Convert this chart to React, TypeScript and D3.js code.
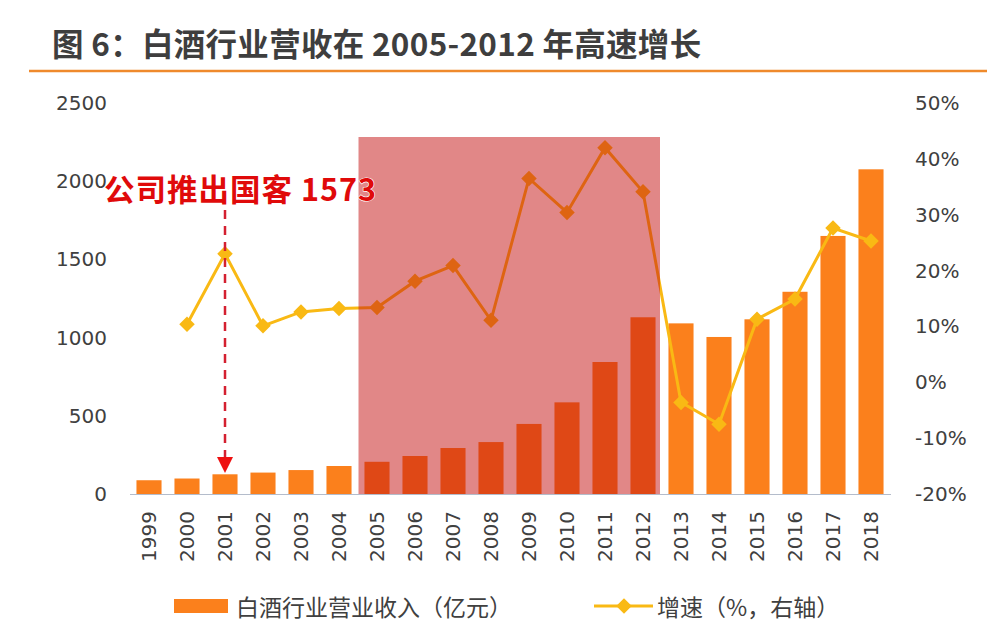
import React from 'react';
import * as d3 from 'd3';

const years = ['1999','2000','2001','2002','2003','2004','2005','2006','2007','2008','2009','2010','2011','2012','2013','2014','2015','2016','2017','2018'];
const revenue = [88, 99, 126, 137, 153, 179, 206, 243, 294, 332, 448, 586, 844, 1130, 1091, 1004, 1117, 1293, 1650, 2076];
const growth: (number | null)[] = [null, 10.4, 23.0, 10.1, 12.6, 13.2, 13.4, 18.1, 20.9, 11.1, 36.5, 30.4, 42.0, 34.1, -3.6, -7.5, 11.3, 14.9, 27.6, 25.3];
const leftTicks = [0, 500, 1000, 1500, 2000, 2500];
const rightTicks = [-20, -10, 0, 10, 20, 30, 40, 50];
const shadeFrom = '2005';
const shadeTo = '2012';
const annotYear = '2001';

const title = '图 6：白酒行业营收在 2005-2012 年高速增长';
const annotText = '公司推出国客 1573';
const legendBar = '白酒行业营业收入（亿元）';
const legendLine = '增速（%，右轴）';

const W = 998, H = 640;
const BAR = '#fb801c';
const GOLD = '#f9b914';
const CJK = '"Noto Sans CJK SC", "Noto Sans", sans-serif';
const NUM = '"DejaVu Sans", sans-serif';

export default function App() {
  const x = d3.scaleBand<string>().domain(years).range([130, 890]).paddingInner(0.34).paddingOuter(0.17);
  const yL = d3.scaleLinear().domain([0, 2500]).range([494, 103]);
  const yR = d3.scaleLinear().domain([-20, 50]).range([494, 103]);
  const cx = (y: string) => (x(y) as number) + x.bandwidth() / 2;

  const pts = years.map((y, i) => ({ y, v: growth[i] }));
  const line = d3.line<{ y: string; v: number | null }>()
    .defined(d => d.v != null)
    .x(d => cx(d.y))
    .y(d => yR(d.v as number));
  const diamond = d3.symbol().type(d3.symbolSquare).size(120)() as string;

  const step = x.step();
  const shadeX0 = (x(shadeFrom) as number) - step * 0.17 + 0.5;
  const shadeX1 = (x(shadeTo) as number) + x.bandwidth() + step * 0.17 - 2;
  const ax = cx(annotYear);

  return (
    <svg width={W} height={H} style={{ position: 'absolute', left: 0, top: 0, background: '#fff' }}>
      <text x={52} y={42} dominantBaseline="central" fontFamily={CJK} fontWeight={700} fontSize={31.5} letterSpacing={0.3} fill="#3e3e3e">{title}</text>
      <line x1={29} x2={987} y1={71} y2={71} stroke="#ef8a2c" strokeWidth={2.5} />

      {leftTicks.map(t => (
        <text key={'l' + t} x={107} y={yL(t)} textAnchor="end" dominantBaseline="central" fontFamily={NUM} fontSize={20} fill="#404040">{t}</text>
      ))}
      {rightTicks.map(t => (
        <text key={'r' + t} x={915} y={yR(t)} textAnchor="start" dominantBaseline="central" fontFamily={NUM} fontSize={20} fill="#404040">{t + '%'}</text>
      ))}

      {years.map((y, i) => (
        <rect key={'b' + y} x={x(y)} y={yL(revenue[i])} width={x.bandwidth()} height={yL(0) - yL(revenue[i])} fill={BAR} />
      ))}
      <line x1={130} x2={891} y1={494.5} y2={494.5} stroke="#b4bccb" strokeWidth={1.2} />

      <path d={line(pts) as string} fill="none" stroke={GOLD} strokeWidth={3} />
      {pts.filter(p => p.v != null).map(p => (
        <path key={'d' + p.y} d={diamond} transform={`translate(${cx(p.y)},${yR(p.v as number)}) rotate(45)`} fill={GOLD} />
      ))}

      <rect x={shadeX0} y={137} width={shadeX1 - shadeX0} height={494 - 137} fill="rgb(195,15,15)" fillOpacity={0.5} />

      {years.map(y => (
        <text key={'x' + y} transform={`translate(${cx(y)},${511}) rotate(-90)`} textAnchor="end" dominantBaseline="central" fontFamily={NUM} fontSize={20} fill="#404040">{y}</text>
      ))}

      <line x1={ax} x2={ax} y1={210} y2={458} stroke="#d42030" strokeWidth={2.5} strokeDasharray="9,7" />
      <path d={`M${ax - 8},457 L${ax + 8},457 L${ax},473 Z`} fill="#ee1111" />
      <text x={104} y={188} dominantBaseline="central" fontFamily={CJK} fontWeight={700} fontSize={30.5} letterSpacing={1} fill="#e00a0a" stroke="#fff" strokeWidth={1.2} paintOrder="stroke">{annotText}</text>

      <rect x={174} y={599} width={54} height={14} fill={BAR} />
      <text x={236} y={606} dominantBaseline="central" fontFamily={CJK} fontSize={23} fill="#404040">{legendBar}</text>
      <line x1={594} x2={653} y1={606} y2={606} stroke={GOLD} strokeWidth={3} />
      <path d={diamond} transform={`translate(624,606) rotate(45)`} fill={GOLD} />
      <text x={657} y={606} dominantBaseline="central" fontFamily={CJK} fontSize={23} fill="#404040">{legendLine}</text>
    </svg>
  );
}
